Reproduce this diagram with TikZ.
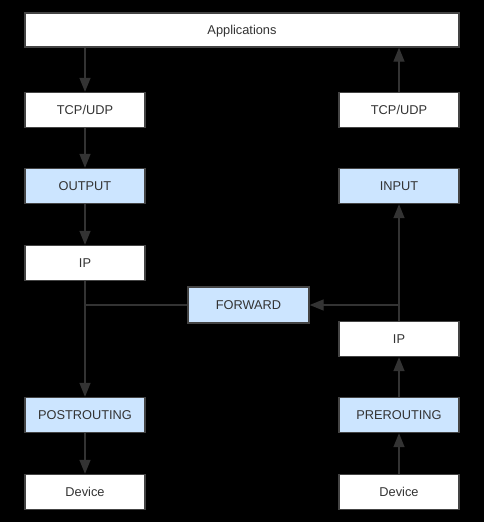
\documentclass[tikz,border=0pt]{standalone}
\usepackage{fontspec}
\setmainfont{Liberation Sans}
\usetikzlibrary{arrows.meta}
\definecolor{boxline}{HTML}{444444}
\definecolor{conn}{HTML}{333333}
\definecolor{hook}{HTML}{CCE5FF}
\definecolor{txt}{HTML}{333333}
\tikzset{
  box/.style={draw=boxline, line width=1.4pt, fill=white, rectangle, minimum width=120pt, minimum height=35pt, inner sep=0pt, text height=9.2pt, text depth=0pt, text=txt, font=\fontsize{12.8}{15}\selectfont},
  hookbox/.style={box, fill=hook},
  link/.style={draw=conn, line width=1.4pt},
  arr/.style={link, -{Triangle[length=14pt,width=11pt]}}
}
\begin{document}
\begin{tikzpicture}[x=1pt,y=-1pt]
\fill[black] (0,0) rectangle (484,522);
\useasboundingbox (0,0) rectangle (484,522);
\node[box, minimum width=434pt, minimum height=34pt] (app) at (242,30) {Applications};
\node[box] (ltcp) at (85,110) {TCP/UDP};
\node[hookbox] (out) at (85,186) {OUTPUT};
\node[box] (lip) at (85,263) {IP};
\node[hookbox] (post) at (85,415) {POSTROUTING};
\node[box] (ldev) at (85,492) {Device};
\node[box] (rtcp) at (399,110) {TCP/UDP};
\node[hookbox] (in) at (399,186) {INPUT};
\node[box] (rip) at (399,339) {IP};
\node[hookbox] (pre) at (399,415) {PREROUTING};
\node[box] (rdev) at (399,492) {Device};
\node[hookbox, minimum width=121pt, minimum height=36pt] (fwd) at (248.5,305) {FORWARD};
\draw[arr] (ltcp.north |- app.south) -- (ltcp.north);
\draw[arr] (rtcp.north) -- (rtcp.north |- app.south);
\draw[arr] (ltcp) -- (out);
\draw[arr] (out) -- (lip);
\draw[arr] (lip) -- (post);
\draw[arr] (post) -- (ldev);
\draw[link] (fwd.west) -- (fwd.west -| lip.south);
\draw[arr] (rip.north) -- (in.south);
\draw[arr] (rip.north |- fwd.east) -- (fwd.east);
\draw[arr] (rdev) -- (pre);
\draw[arr] (pre) -- (rip);
\end{tikzpicture}
\end{document}
